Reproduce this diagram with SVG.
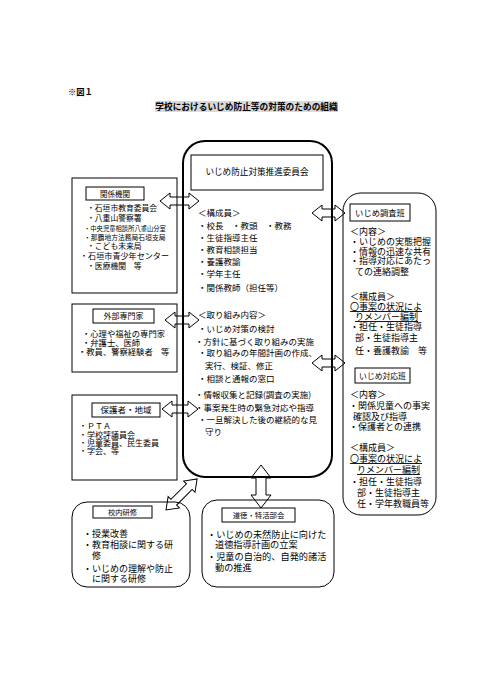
<svg xmlns="http://www.w3.org/2000/svg" width="490" height="697" viewBox="0 0 490 697">
<style>
text{font-family:"Noto Sans CJK JP","Noto Sans",sans-serif;fill:#000}
.b{fill:none;stroke:#000;stroke-width:1}
.t{fill:none;stroke:#000;stroke-width:1}
.arr{fill:#fff;stroke:#000;stroke-width:1;stroke-linejoin:miter}
.c{text-anchor:middle}
.s8{font-size:8px}
.s85{font-size:8.5px}
.s9{font-size:9px}
.u{text-decoration:underline}
</style>
<rect width="490" height="697" fill="#fff"/>
<g id="heading">
<text x="68" y="95" font-size="8.3" font-weight="bold">※図１</text>
<rect x="155" y="101" width="183" height="11" fill="#d9d9d9"/>
<text x="246.5" y="110" font-size="8.7" font-weight="bold" class="c">学校におけるいじめ防止等の対策のための組織</text>
</g>
<g id="connectors">
<path class="arr" d="M160,201 L170,193 L170,197 L189,197 L189,193 L199,201 L189,209 L189,205 L170,205 L170,209 Z"/>
<path class="arr" d="M165,320 L175,312 L175,316 L189,316 L189,312 L199,320 L189,328 L189,324 L175,324 L175,328 Z"/>
<path class="arr" d="M162,409 L172,401 L172,405 L188,405 L188,401 L198,409 L188,417 L188,413 L172,413 L172,417 Z"/>
<path class="arr" d="M312,213 L322,205 L322,209 L335,209 L335,205 L345,213 L335,221 L335,217 L322,217 L322,221 Z"/>
<path class="arr" d="M312,363 L322,355 L322,359 L335,359 L335,355 L345,363 L335,371 L335,367 L322,367 L322,371 Z"/>
<path class="arr" d="M261,465 L271,478 L266,478 L266,495 L271,495 L261,508 L251,495 L256,495 L256,478 L251,478 Z"/>
<path class="arr" transform="translate(166,510) rotate(-45)" d="M0,0 L11,-8 L11,-4 L33,-4 L33,-8 L44,0 L33,8 L33,4 L11,4 L11,8 Z"/>
</g>
<g id="committee">
<rect x="183" y="141" width="149" height="336" rx="22" fill="none" stroke="#000" stroke-width="2"/>
<rect class="t" x="191" y="155" width="132" height="35"/>
<text x="257" y="175" font-size="8.6" class="c">いじめ防止対策推進委員会</text>
<g class="s85">
<text x="198" y="216">＜構成員＞</text>
<text x="198" y="229">・校長　・教頭　・教務</text>
<text x="198" y="241">・生徒指導主任</text>
<text x="198" y="253">・教育相談担当</text>
<text x="198" y="265">・養護教諭</text>
<text x="198" y="277">・学年主任</text>
<text x="198" y="291">・関係教師（担任等）</text>
<text x="198" y="318">＜取り組み内容＞</text>
<text x="198" y="332">・いじめ対策の検討</text>
<text x="195" y="345">・方針に基づく取り組みの実施</text>
<text x="198" y="356">・取り組みの年間計画の作成、</text>
<text x="205" y="369">実行、検証、修正</text>
<text x="198" y="382">・相談と通報の窓口</text>
<text x="195" y="398">・情報収集と記録(調査の実施)</text>
<text x="195" y="411">・事案発生時の緊急対応や指導</text>
<text x="198" y="423">・一旦解決した後の継続的な見</text>
<text x="205" y="435">守り</text>
</g>
</g>
<g id="kankei">
<rect class="b" x="72" y="178" width="105" height="115"/>
<rect class="t" x="86" y="187" width="58" height="13"/>
<text x="115" y="196.8" font-size="7.5" class="c">関係機関</text>
<text x="87" y="211" font-size="7.8">・石垣市教育委員会</text>
<text x="87" y="221" font-size="7.8">・八重山警察署</text>
<text x="84" y="230.5" font-size="6.3">・中央児童相談所八重山分室</text>
<text x="84" y="239.5" font-size="6.8">・那覇地方法務局石垣支局</text>
<text x="87" y="249" font-size="7.8">・こども未来局</text>
<text x="80" y="259" font-size="8.1">・石垣市青少年センター</text>
<text x="87" y="269" font-size="7.8">・医療機関　等</text>
</g>
<g id="gaibu">
<rect class="b" x="72" y="304" width="105" height="68"/>
<rect class="t" x="93" y="309" width="61" height="14"/>
<text x="123.5" y="319" font-size="8" class="c">外部専門家</text>
<text x="82" y="337" font-size="8.3">・心理や福祉の専門家</text>
<text x="82" y="346" font-size="8.3">・弁護士、医師</text>
<text x="78" y="354.5" font-size="8.3">・教員、警察経験者　等</text>
</g>
<g id="hogosha">
<rect class="b" x="72" y="395" width="105" height="85"/>
<rect class="t" x="92" y="403" width="68" height="14"/>
<text x="126" y="413" font-size="8.5" class="c">保護者・地域</text>
<text x="79" y="429" class="s8">・ＰＴＡ</text>
<text x="79" y="438" class="s8">・学校評議員会</text>
<text x="79" y="446" class="s8">・児童委員、民生委員</text>
<text x="79" y="454" class="s8">・字会、等</text>
</g>
<g id="chosa">
<rect class="b" x="343" y="193" width="93" height="322" rx="18"/>
<rect class="t" x="350" y="204" width="60" height="17"/>
<text x="380" y="215.5" font-size="8.3" class="c">いじめ調査班</text>
<g class="s9">
<text x="350" y="235">＜内容＞</text>
<text x="350" y="245">・いじめの実態把握</text>
<text x="350" y="255">・情報の迅速な共有</text>
<text x="350" y="264">・指導対応にあたっ</text>
<text x="355" y="275">ての連絡調整</text>
<text x="350" y="300">＜構成員＞</text>
<text x="350" y="310" class="u">〇事案の状況によ</text>
<text x="355" y="320" class="u">りメンバー編制</text>
<text x="350" y="330">・担任・生徒指導</text>
<text x="355" y="341">部・生徒指導主</text>
<text x="355" y="354">任・養護教諭　等</text>
</g>
</g>
<g id="taio">
<rect class="t" x="355" y="368" width="55" height="15"/>
<text x="382.5" y="378.5" font-size="7.8" class="c">いじめ対応班</text>
<g class="s9">
<text x="350" y="398">＜内容＞</text>
<text x="349" y="409">・関係児童への事実</text>
<text x="353" y="420">確認及び指導</text>
<text x="349" y="430">・保護者との連携</text>
<text x="350" y="451">＜構成員＞</text>
<text x="350" y="462" class="u">〇事案の状況によ</text>
<text x="357" y="473" class="u">りメンバー編制</text>
<text x="350" y="485">・担任・生徒指導</text>
<text x="357" y="496">部・生徒指導主</text>
<text x="357" y="507">任・学年教職員等</text>
</g>
</g>
<g id="konai">
<rect class="b" x="72" y="502" width="118" height="85" rx="15"/>
<rect class="t" x="93" y="506" width="59" height="12"/>
<text x="122.5" y="514.8" font-size="7.3" class="c">校内研修</text>
<g class="s9">
<text x="83" y="537">・授業改善</text>
<text x="83" y="548">・教育相談に関する研</text>
<text x="92" y="559">修</text>
<text x="83" y="572">・いじめの理解や防止</text>
<text x="92" y="582">に関する研修</text>
</g>
</g>
<g id="dotoku">
<rect class="b" x="202" y="500" width="132" height="87" rx="15"/>
<rect class="t" x="222" y="508" width="73" height="14"/>
<text x="258.5" y="517.8" font-size="7.4" class="c">道徳・特活部会</text>
<g font-size="9.2">
<text x="207" y="538">・いじめの未然防止に向けた</text>
<text x="215" y="548">道徳指導計画の立案</text>
<text x="207" y="560">・児童の自治的、自発的諸活</text>
<text x="215" y="571">動の推進</text>
</g>
</g>
</svg>
